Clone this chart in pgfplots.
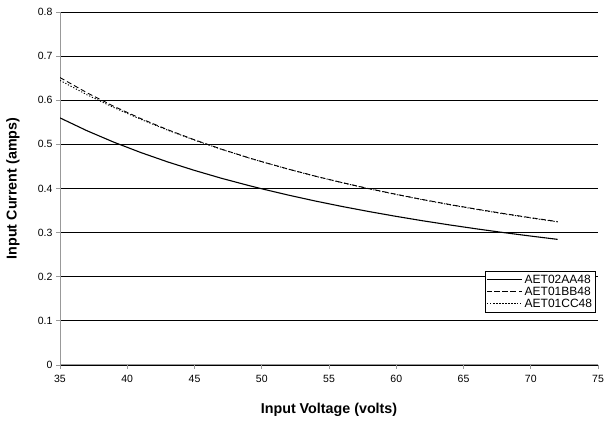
\documentclass[border=0pt]{standalone}
\usepackage{pgfplots}
\pgfplotsset{compat=1.18}
\usepackage{fontspec}
\setmainfont{Liberation Sans}
\begin{document}
\begin{tikzpicture}[x=1pt,y=1pt]
\begin{axis}[
  at={(60pt,57pt)}, anchor=south west,
  scale only axis, width=538pt, height=353pt,
  xmin=35, xmax=75, ymin=0, ymax=0.8,
  xtick={35,40,...,75},
  ytick={0,0.1,...,0.8},
  axis lines*=left,
  axis line style={draw=gray!80, line width=1pt},
  tick style={draw=gray!80, line width=0.8pt},
  tick align=outside, major tick length=4pt,
  ymajorgrids, grid style={black, line width=0.9pt},
  /pgf/number format/assume math mode=true,
  /pgf/number format/fixed,
  yticklabel style={/pgf/number format/precision=1, font=\fontsize{10.5}{12}\selectfont},
  xticklabel style={font=\fontsize{10.5}{12}\selectfont, yshift=-3pt},
  xlabel={\bfseries Input Voltage (volts)},
  ylabel={\bfseries Input Current (amps)},
  xlabel style={font=\fontsize{14.3}{16}\selectfont, at={(axis description cs:0.5,0)}, anchor=center, yshift=-45pt},
  ylabel style={font=\fontsize{14.3}{16}\selectfont, at={(axis description cs:0,0.5)}, anchor=center, yshift=47pt},
  legend style={at={(rel axis cs:0.996,0.266)}, anchor=north east, draw=black, line width=0.6pt,
    font=\fontsize{12}{13}\selectfont, row sep=-2pt, inner sep=1.5pt},
  legend cell align=left,
  legend image post style={line width=0.9pt},
  legend image code/.code={\path (-7pt,0pt) -- (28pt,0pt); \draw[#1] (0pt,0pt) -- (22pt,0pt);},
]
\addplot[black, line width=1.1pt] coordinates {
(35,0.560) (37,0.531) (39,0.505) (41,0.4816) (43,0.4603) (45,0.441) (47,0.4232) (49,0.407)
(50,0.3993) (52,0.3849) (54,0.3715) (56,0.3591) (58,0.3476) (60,0.3368) (62,0.3267)
(64,0.3173) (66,0.3084) (68,0.3000) (70,0.2922) (72,0.2847)};
\addlegendentry{AET02AA48}
\addplot[black, line width=0.9pt, dash pattern=on 5pt off 3pt] coordinates {
(35,0.6514) (37,0.6171) (39,0.5863) (41,0.5585) (43,0.5333) (45,0.5103) (47,0.4892) (49,0.4699)
(50,0.4609) (52,0.4438) (54,0.4279) (56,0.4132) (58,0.3995) (60,0.3868) (62,0.3748)
(64,0.3636) (66,0.3531) (68,0.3432) (70,0.3338) (72,0.3250)};
\addlegendentry{AET01BB48}
\addplot[black, line width=0.9pt, dash pattern=on 1.2pt off 1.8pt] coordinates {
(35,0.6450) (37,0.6125) (39,0.5835) (41,0.5568) (43,0.5322) (45,0.5097) (47,0.4888) (49,0.4696)
(50,0.4606) (52,0.4435) (54,0.4276) (56,0.4129) (58,0.3991) (60,0.3863) (62,0.3743)
(64,0.3630) (66,0.3525) (68,0.3426) (70,0.3332) (72,0.3243)};
\addlegendentry{AET01CC48}
\end{axis}
\path[use as bounding box] (0,0) rectangle (609pt,422pt);
\end{tikzpicture}
\end{document}
